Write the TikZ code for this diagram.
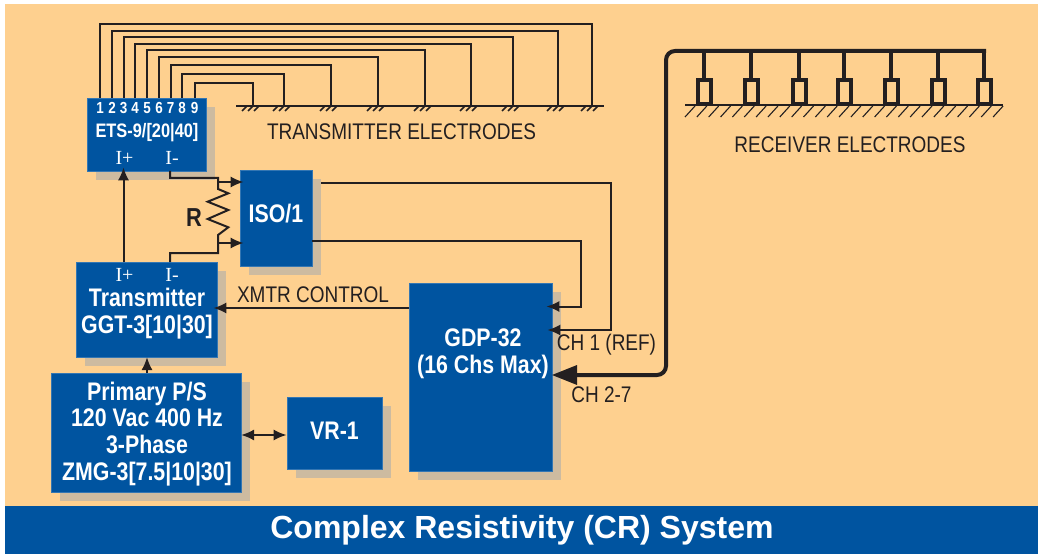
\documentclass[tikz,border=0pt]{standalone}
\usepackage{fontspec}
\setmainfont{Liberation Sans}
\newfontfamily\narrowfont[FakeStretch=0.84]{Liberation Sans}
\newfontfamily\pinfont{Liberation Serif}
\usetikzlibrary{shadows}
\usetikzlibrary{arrows.meta}
\usetikzlibrary{calc}
\definecolor{panelorange}{HTML}{FED08F}
\definecolor{boxblue}{HTML}{0054A0}
\definecolor{shadowtan}{HTML}{CDBBA0}
\definecolor{inkblack}{HTML}{231F20}
\tikzset{
    bluebox/.style={fill=boxblue, draw=boxblue!80!white, line width=0.6pt, inner sep=0pt,
        drop shadow={shadow xshift=9pt, shadow yshift=-9pt, opacity=1, fill=shadowtan}},
    boxtext/.style={text=white, font=\narrowfont\bfseries\fontsize{25.4}{26.8}\selectfont, align=center, inner sep=0pt},
    pintext/.style={text=white, font=\pinfont\fontsize{20}{22}\selectfont, inner sep=0pt},
    numtext/.style={text=white, font=\narrowfont\bfseries\fontsize{16}{18}\selectfont, inner sep=0pt},
    caption/.style={text=inkblack, font=\narrowfont\fontsize{22.6}{25}\selectfont, inner sep=0pt},
    wire/.style={draw=inkblack, line width=2pt},
    sig/.style={wire, -{Latex[length=13pt,width=11pt]}},
    bus/.style={draw=inkblack, line width=4pt},
}
\begin{document}
\begin{tikzpicture}[x=1pt, y=-1pt]
    \useasboundingbox (0,0) rectangle (1038,556);
    \fill[white] (0,0) rectangle (1038,556);
    \fill[panelorange] (5,4) rectangle (1038,506);
    \node[fill=boxblue, minimum width=1033pt, minimum height=48pt, inner sep=0pt] (band) at (521.5,530) {};
    \node[text=white, font=\bfseries\fontsize{32}{35}\selectfont, inner sep=0pt] (title) at (522,530) {Complex Resistivity (CR) System};

    \node[bluebox, minimum width=119pt, minimum height=73pt] (ets) at (146.5,134.5) {};
    \node[bluebox, minimum width=72pt, minimum height=96pt] (iso) at (276,218) {};
    \node[bluebox, minimum width=141pt, minimum height=95pt] (ggt) at (146.5,309.5) {};
    \node[bluebox, minimum width=190pt, minimum height=119pt] (zmg) at (146,432.5) {};
    \node[bluebox, minimum width=95pt, minimum height=72pt] (vr) at (334.5,433) {};
    \node[bluebox, minimum width=143pt, minimum height=188pt] (gdp) at (480.5,377) {};

    \node[boxtext, font=\narrowfont\bfseries\fontsize{19.5}{22}\selectfont] (etstext) at (147,133) {ETS-9/[20|40]};
    \node[boxtext] (isotext) at (276,214) {ISO/1};
    \node[boxtext] (ggttext) at (147,313.5) {Transmitter\\GGT-3[10|30]};
    \node[boxtext] (zmgtext) at (147,434) {Primary P/S\\120 Vac 400 Hz\\3-Phase\\ZMG-3[7.5|10|30]};
    \node[boxtext] (vrtext) at (334.5,431) {VR-1};
    \node[boxtext] (gdptext) at (483,354) {GDP-32\\(16 Chs Max)};
    \node[pintext] (etsplus) at (124.5,158) {I+};
    \node[pintext] (etsminus) at (172,158) {I-};
    \node[pintext] (ggtplus) at (124.5,275) {I+};
    \node[pintext] (ggtminus) at (172,275) {I-};

    \node[caption] (txlabel) at (401.5,132) {TRANSMITTER ELECTRODES};
    \node[caption] (rxlabel) at (850,145) {RECEIVER ELECTRODES};
    \node[caption] (xmtrlabel) at (313,295) {XMTR CONTROL};
    \node[caption] (ch1label) at (606.5,345) {CH 1 (REF)};
    \node[caption] (ch2label) at (601.5,395) {CH 2-7};
    \node[text=inkblack, font=\narrowfont\bfseries\fontsize{26}{28}\selectfont, inner sep=0pt] (rlabel) at (194,218) {R};

    \coordinate (txleft) at (236,106);
    \coordinate (txright) at (604,106);
    \draw[wire] (txleft) -- (txright);
    \foreach \n/\x/\y/\e in {1/100/24/592, 2/112/31/558, 3/123.5/37/513, 4/135/44/471, 5/147/50/425,
        6/159/57/378, 7/170.5/65/331, 8/182/74/284, 9/194.5/83/253} {
        \coordinate (pin\n) at (\x,98);
        \coordinate (top\n) at (\x,\y);
        \coordinate (tx\n) at (\e,106);
        \draw[wire] (pin\n) -- (top\n) -| (tx\n);
        \node[numtext] (num\n) at (\x,108) {\n};
        \foreach \d in {-6,0,6}
            \draw[inkblack, line width=1.6pt] ($(tx\n)+(\d,0)$) -- ++(-5,5);
    }

    \coordinate (iplus) at (123.5,262);
    \draw[sig, shorten >=-4pt] (iplus) -- (iplus |- ets.south);
    \coordinate (etsout) at (170,171);
    \coordinate (rtop) at (218,189);
    \coordinate (rbottom) at (218,235);
    \coordinate (ggtin) at (170,262);
    \coordinate (rin) at (218,182);
    \coordinate (rout) at (218,243);
    \draw[wire] (etsout) |- (rtop |- 0,178) -- (rtop)
        -- (228.3,193.3) -- (207.7,201.7) -- (228.3,210) -- (207.7,219) -- (228.3,227.3) -- (rbottom)
        -- (218,253) -| (ggtin);
    \draw[sig, shorten >=-4pt] (rin) -- (iso.west |- rin);
    \draw[sig, shorten >=-4pt] (rout) -- (iso.west |- rout);

    \coordinate (isoa) at (321,183);
    \coordinate (isob) at (312,241);
    \coordinate (cha) at (610.5,330);
    \coordinate (chb) at (581,306.5);
    \draw[sig, shorten >=-5pt] (isoa) -| (cha) -- (gdp.east |- cha);
    \draw[sig, shorten >=-6pt] (isob) -| (chb) -- (gdp.east |- chb);

    \coordinate (xmtr) at (409,308);
    \draw[sig, shorten >=-4pt] (xmtr) -- (ggt.east |- xmtr);
    \draw[sig] (147,373) -- (147,357);
    \coordinate (vrlink) at (241,435);
    \draw[wire, {Latex[length=13pt,width=11pt]}-{Latex[length=13pt,width=11pt]}] (vrlink) -- (vr.west |- vrlink);

    \coordinate (busleft) at (666,51);
    \coordinate (busright) at (986,51);
    \coordinate (busdown) at (666,375);
    \draw[bus, rounded corners=9pt] (busright) -- (busleft) -- (busdown) -- (570,375);
    \fill[inkblack] (552,375) -- (577,365) -- (577,385) -- cycle;

    \coordinate (rxleft) at (685,105);
    \coordinate (rxright) at (1003,105);
    \draw[inkblack, line width=2pt] (rxleft) -- (rxright);
    \foreach \i in {0,...,26}
        \draw[inkblack, line width=1.1pt] ($(695,106)+(11.85*\i,0)$) -- ++(-10,11);
    \foreach \n/\x in {1/704, 2/751, 3/799, 4/844, 5/891, 6/938, 7/984} {
        \coordinate (rx\n) at (\x,51);
        \coordinate (cup\n) at (\x,80);
        \draw[inkblack, line width=4pt] (rx\n) -- (cup\n);
        \draw[inkblack, line width=4pt] ($(cup\n)+(-6.5,0)$) rectangle ($(cup\n)+(6.5,24)$);
    }
\end{tikzpicture}
\end{document}
